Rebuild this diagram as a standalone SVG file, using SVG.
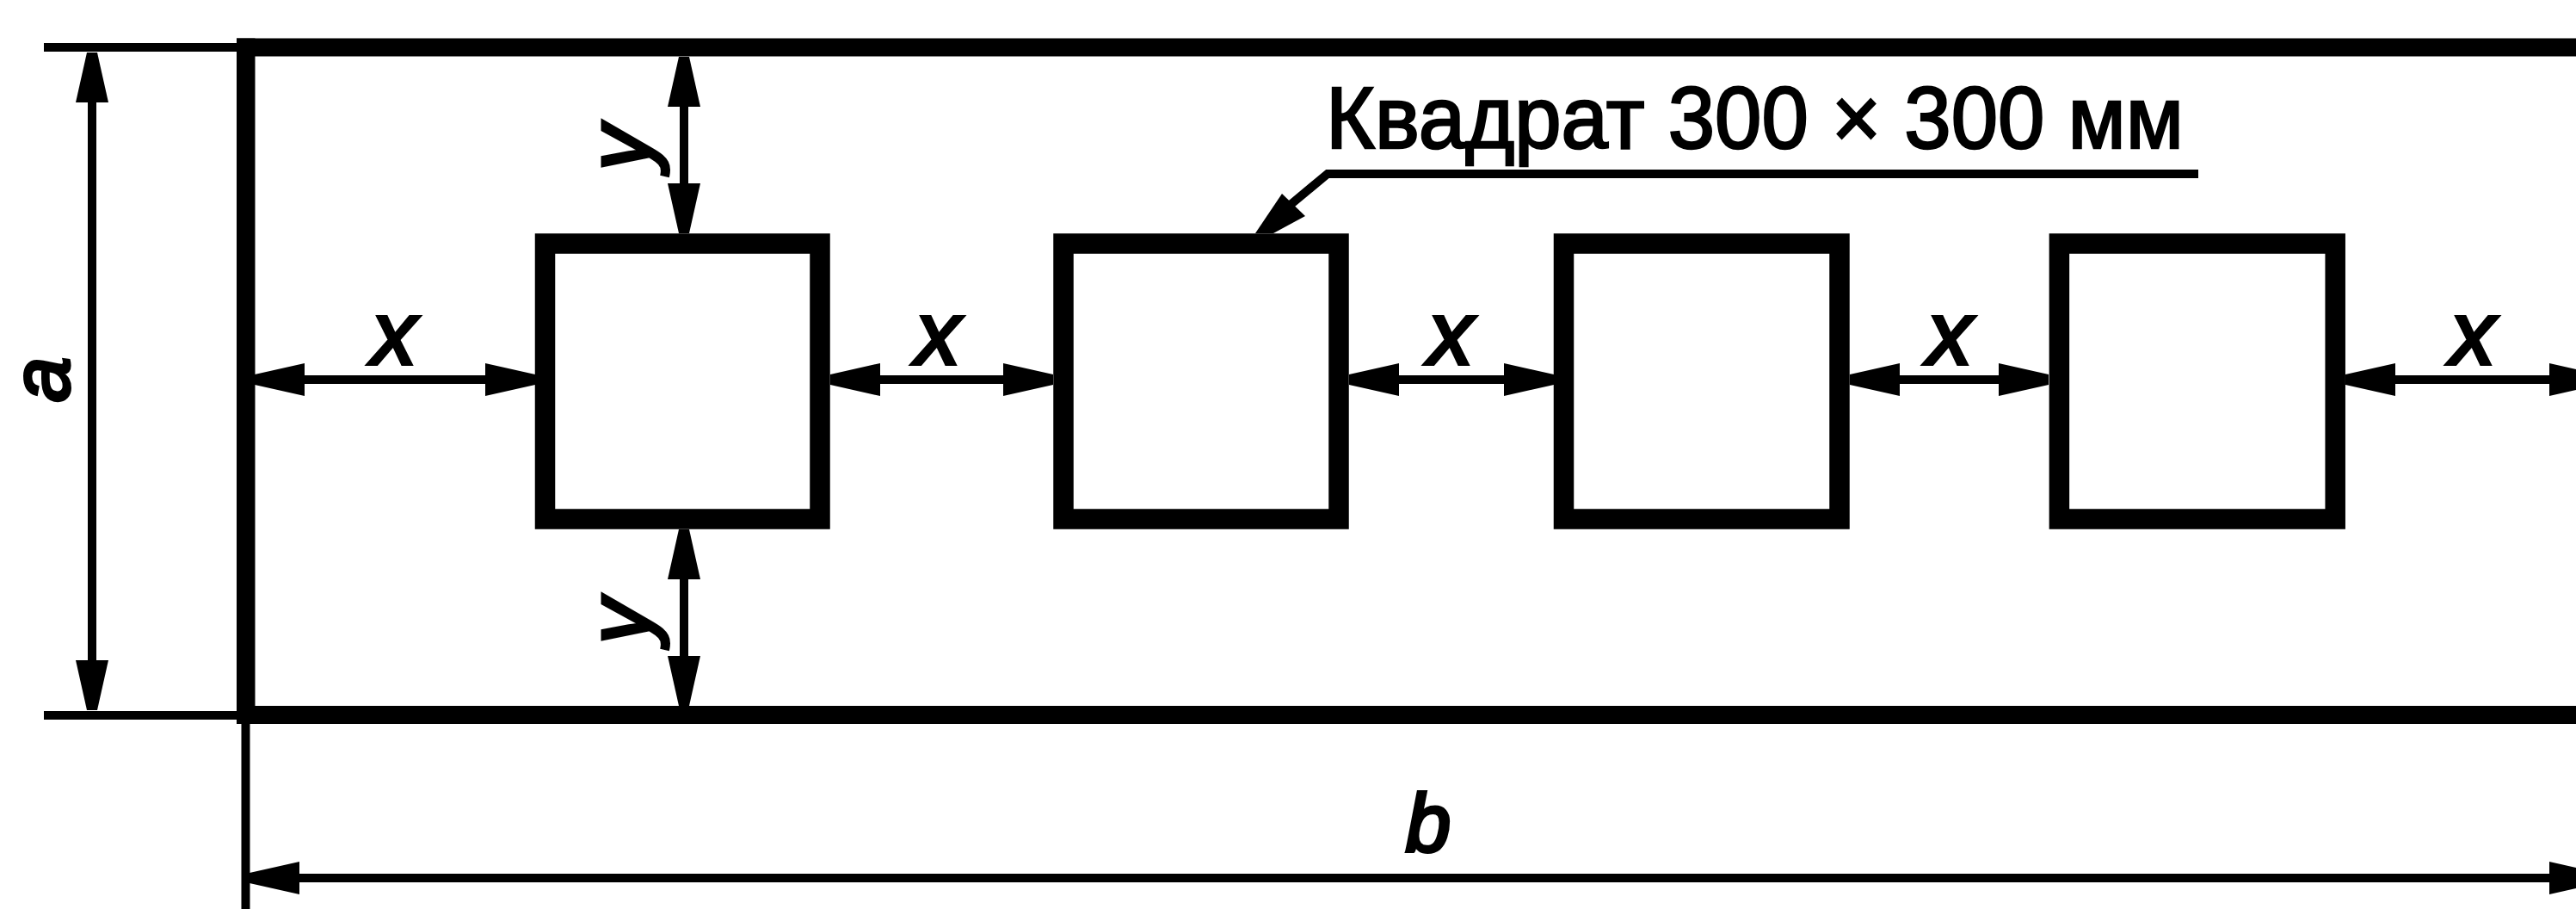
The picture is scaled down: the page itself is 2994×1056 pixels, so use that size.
<svg xmlns="http://www.w3.org/2000/svg" width="2994" height="1056" viewBox="0 0 2994 1056">
<style>
.sq{fill:none;stroke:#000;stroke-width:23.5}
.bar{fill:#000}
.dim{fill:none;stroke:#000;stroke-width:10;marker-start:url(#arrow);marker-end:url(#arrow)}
.thin{fill:none;stroke:#000;stroke-width:10}
text{font-family:"Liberation Sans",Arial,sans-serif;fill:#000}
.v{font-style:italic;font-size:104px;text-anchor:middle;stroke:#000;stroke-width:4}
.s{font-size:94px}
.t{font-size:102px;stroke:#000;stroke-width:2.5}
</style>
<defs>
<marker id="arrow" markerUnits="userSpaceOnUse" markerWidth="60" markerHeight="40" refX="58" refY="20" orient="auto-start-reverse" overflow="visible">
<path d="M0,1 L58,14 L58,26 L0,39 Z" fill="#000"/>
</marker>
</defs>
<rect width="2994" height="1056" fill="#fff"/>
<g id="frame">
<rect class="bar" x="275" y="44.5" width="2719" height="21"/>
<rect class="bar" x="275" y="820" width="2719" height="21"/>
<rect class="bar" x="275" y="44.5" width="21.5" height="796.5"/>
</g>
<g id="square-1"><rect class="sq" x="633.5" y="283" width="319.5" height="320"/></g>
<g id="square-2"><rect class="sq" x="1236" y="283" width="320" height="320"/></g>
<g id="square-3"><rect class="sq" x="1817.5" y="283" width="320.5" height="320"/></g>
<g id="square-4"><rect class="sq" x="2393.4" y="283" width="320.8" height="320"/></g>
<g id="connectors">
<path class="thin" d="M51,55H275M51,831H275M285.5,841V1056"/>
<path class="dim" d="M107,61V825"/>
<path class="dim" d="M795,66V271"/>
<path class="dim" d="M795,615V820"/>
<path class="dim" d="M296,441H622"/>
<path class="dim" d="M965,441H1224"/>
<path class="dim" d="M1568,441H1806"/>
<path class="dim" d="M2150,441H2381"/>
<path class="dim" d="M2726,441H3021"/>
<path class="dim" d="M290,1020H3021"/>
<path class="thin" d="M2555,202H1543L1490,246"/>
<polygon points="1459,271 1490,225 1517,251 1480,271" fill="#000"/>
</g>
<g id="labels">
<text class="v" x="458" y="423">x</text>
<text class="v" x="1090" y="423">x</text>
<text class="v" x="1686" y="423">x</text>
<text class="v" x="2266" y="423">x</text>
<text class="v" x="2874" y="423">x</text>
<text class="v" transform="translate(755,172) rotate(-90)">y</text>
<text class="v" transform="translate(755,722) rotate(-90)">y</text>
<text class="v s" transform="translate(80,441) rotate(-90)">a</text>
<text class="v s" x="1660" y="989">b</text>
<text class="t" x="1541" y="172" textLength="997" lengthAdjust="spacingAndGlyphs">Квадрат 300 × 300 мм</text>
</g>
</svg>
